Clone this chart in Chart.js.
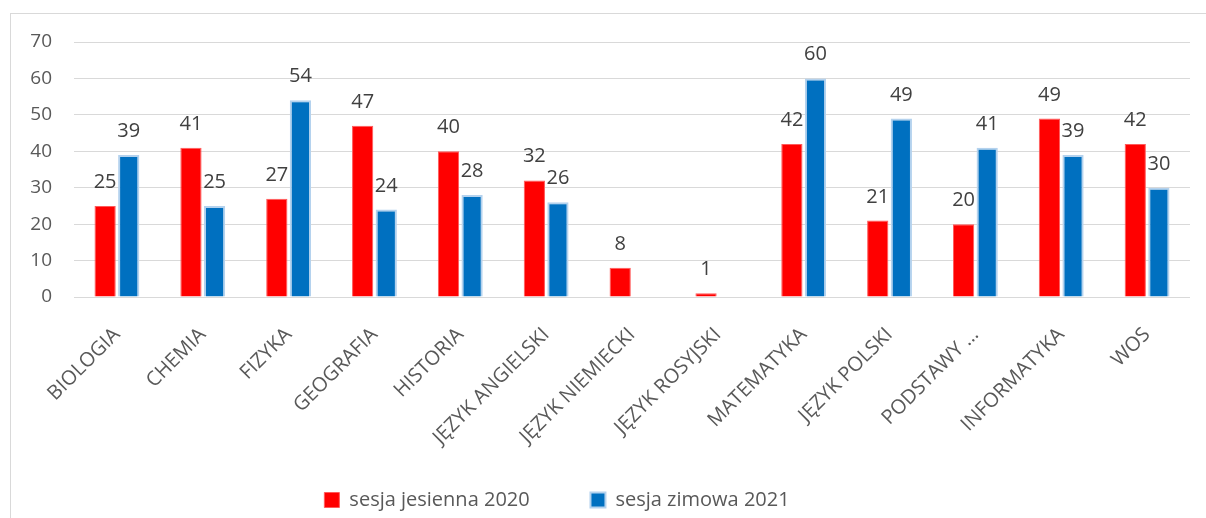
<!DOCTYPE html>
<html lang="pl">

<head>
    <meta charset="UTF-8">
    <title>Wyniki</title>
    <script src="https://cdn.jsdelivr.net/npm/chart.js"></script>
    <style>
        body { margin: 0; background: #fff; }
        .ramka { position: absolute; left: 10px; top: 13px; width: 1230px; height: 540px; border: 1px solid #d9d9d9; }
        .wykres { position: absolute; left: 0; top: 0; width: 1206px; height: 518px; }
    </style>
</head>

<body>
    <div class="ramka"></div>
    <div class="wykres">
        <canvas id="graficoWyniki" width="1206" height="518"></canvas>
    </div>
</body>
<script>
    var przedmioty = ['BIOLOGIA', 'CHEMIA', 'FIZYKA', 'GEOGRAFIA', 'HISTORIA', 'JĘZYK ANGIELSKI', 'JĘZYK NIEMIECKI',
        'JĘZYK ROSYJSKI', 'MATEMATYKA', 'JĘZYK POLSKI', 'PODSTAWY …', 'INFORMATYKA', 'WOS']
    var sesjaJesienna = [25, 41, 27, 47, 40, 32, 8, 1, 42, 21, 20, 49, 42]
    var sesjaZimowa = [39, 25, 54, 24, 28, 26, null, null, 60, 49, 41, 39, 30]
    var ticksY = [0, 10, 20, 30, 40, 50, 60, 70]

    var fonte = 'Open Sans'

    // etykiety z wartościami nad słupkami
    const etykiety = {
        id: 'etykiety',
        afterDatasetsDraw(chart) {
            const ctx = chart.ctx
            ctx.save()
            ctx.font = '20px "' + fonte + '"'
            ctx.fillStyle = '#404040'
            ctx.textAlign = 'center'
            ctx.textBaseline = 'alphabetic'
            chart.data.datasets.forEach((ds, i) => {
                chart.getDatasetMeta(i).data.forEach((bar, j) => {
                    if (ds.data[j] == null) return
                    ctx.fillText(ds.data[j], bar.x, bar.y - 18)
                })
            })
            ctx.restore()
        }
    }

    // legenda trochę w lewo, jak w oryginale
    const legendaLewo = {
        id: 'legendaLewo',
        afterLayout(chart) {
            chart.legend.right = 1114
        }
    }

    const ctx = document.getElementById('graficoWyniki').getContext('2d')
    const graficoWyniki = new Chart(ctx, {
        type: 'bar',
        data: {
            labels: przedmioty,
            datasets: [{
                label: 'sesja jesienna 2020',
                data: sesjaJesienna,
                backgroundColor: '#ff0000',
                borderColor: '#ff5a5a',
                borderWidth: 1,
                categoryPercentage: 0.55,
                barPercentage: 0.9
            }, {
                label: 'sesja zimowa 2021',
                data: sesjaZimowa,
                backgroundColor: '#0070c0',
                borderColor: '#b4d2ee',
                borderWidth: 2,
                categoryPercentage: 0.55,
                barPercentage: 0.9
            }]
        },
        options: {
            responsive: false,
            animation: false,
            layout: {
                padding: { top: 42, right: 16, left: 0, bottom: -2 }
            },
            plugins: {
                legend: {
                    display: true,
                    position: 'bottom',
                    labels: {
                        boxWidth: 15,
                        boxHeight: 15,
                        padding: 40,
                        color: '#595959',
                        font: { family: fonte, size: 20 },
                        // odstęp między pozycjami legendy
                        generateLabels: function (chart) {
                            const itens = Chart.defaults.plugins.legend.labels.generateLabels(chart)
                            itens[0].text += '    '
                            return itens
                        }
                    }
                },
                tooltip: { enabled: false }
            },
            scales: {
                x: {
                    grid: { display: false },
                    border: { display: false },
                    ticks: {
                        color: '#595959',
                        font: { family: fonte, size: 20 },
                        maxRotation: 45,
                        minRotation: 45,
                        autoSkip: false,
                        padding: 18
                    },
                    afterFit: function (scale) { scale.height = 153 }
                },
                y: {
                    min: 0,
                    max: 70,
                    afterBuildTicks: function (scale) { scale.ticks = ticksY.map(v => ({ value: v })) },
                    grid: { color: '#d9d9d9', lineWidth: 1, drawTicks: false },
                    border: { display: false },
                    ticks: {
                        color: '#595959',
                        font: { family: fonte, size: 19 },
                        padding: 22
                    },
                    afterFit: function (scale) { scale.width = 74 }
                }
            }
        },
        plugins: [etykiety, legendaLewo]
    })
</script>

</html>
